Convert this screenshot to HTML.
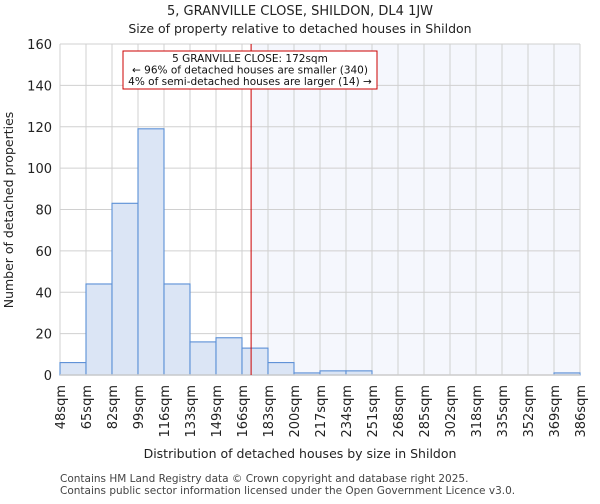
<!DOCTYPE html>
<html><head><meta charset="utf-8"><style>
body{margin:0;background:#fff;font-family:"DejaVu Sans","Liberation Sans",sans-serif;}
svg text{font-family:"DejaVu Sans","Liberation Sans",sans-serif;}
</style></head><body>
<svg id="c" width="600" height="500" xmlns="http://www.w3.org/2000/svg">
<text x="300" y="15" text-anchor="middle" font-size="13" fill="#222">5, GRANVILLE CLOSE, SHILDON, DL4 1JW</text>
<text x="300" y="33" text-anchor="middle" font-size="12.5" fill="#222">Size of property relative to detached houses in Shildon</text>
<g id="plot"></g>
<text x="300" y="458" text-anchor="middle" font-size="12.5" fill="#222">Distribution of detached houses by size in Shildon</text>
<text transform="translate(13,210) rotate(-90)" text-anchor="middle" font-size="12.5" fill="#222">Number of detached properties</text>
<text x="60" y="482" font-size="10.5" fill="#444">Contains HM Land Registry data © Crown copyright and database right 2025.</text>
<text x="60" y="494" font-size="10.5" fill="#444">Contains public sector information licensed under the Open Government Licence v3.0.</text>
</svg>
<script>
const categories=["48sqm","65sqm","82sqm","99sqm","116sqm","133sqm","149sqm","166sqm","183sqm","200sqm","217sqm","234sqm","251sqm","268sqm","285sqm","302sqm","318sqm","335sqm","352sqm","369sqm","386sqm"];
const counts=[6,44,83,119,44,16,18,13,6,1,2,2,0,0,0,0,0,0,0,1];
const yTicks=[0,20,40,60,80,100,120,140,160];
const markerBin=7.35;
const NS="http://www.w3.org/2000/svg";
const L=60,R=580,T=44,B=375,YMAX=160;
const n=counts.length,bw=(R-L)/n;
const xs=i=>L+i*bw;
const ys=v=>B-(v/YMAX)*(B-T);
const g=document.getElementById('plot');
function mk(t,a){const e=document.createElementNS(NS,t);for(const k in a)e.setAttribute(k,a[k]);g.appendChild(e);return e;}
const mx=xs(markerBin);
let e=mk('rect',{x:mx,y:T,width:R-mx,height:B-T,fill:'#f5f7fd'});


for(let i=0;i<=n;i++){e=mk('line',{x1:xs(i),x2:xs(i),y1:T,y2:B,stroke:'#d0d0d0','stroke-width':1});

}
yTicks.forEach(v=>{e=mk('line',{x1:L,x2:R,y1:ys(v),y2:ys(v),stroke:'#d0d0d0','stroke-width':1});


e=mk('text',{x:L-8,y:ys(v)+5,'text-anchor':'end','font-size':13,fill:'#222'});e.textContent=v;

});
counts.forEach((v,i)=>{e=mk('rect',{x:xs(i),y:ys(v),width:bw,height:B-ys(v),fill:'#dbe5f5',stroke:'#5b8fd6','stroke-width':1.1});

});
categories.forEach((c,i)=>{e=mk('text',{transform:`translate(${xs(i)+5},385) rotate(-90)`,'text-anchor':'end','font-size':13,fill:'#222'});e.textContent=c;

});
e=mk('line',{x1:L,x2:R,y1:B,y2:B,stroke:'#ccc','stroke-width':1.5});


e=mk('line',{x1:mx,x2:mx,y1:T,y2:B,stroke:'#c00','stroke-width':1});


e=mk('rect',{x:123,y:51,width:254,height:38,fill:'#fff',stroke:'#c00','stroke-width':1});


["5 GRANVILLE CLOSE: 172sqm","← 96% of detached houses are smaller (340)","4% of semi-detached houses are larger (14) →"].forEach((s,i)=>{
e=mk('text',{x:250,y:62+i*11.5,'text-anchor':'middle','font-size':10.5,fill:'#111'});e.textContent=s;

});
</script>
</body></html>
